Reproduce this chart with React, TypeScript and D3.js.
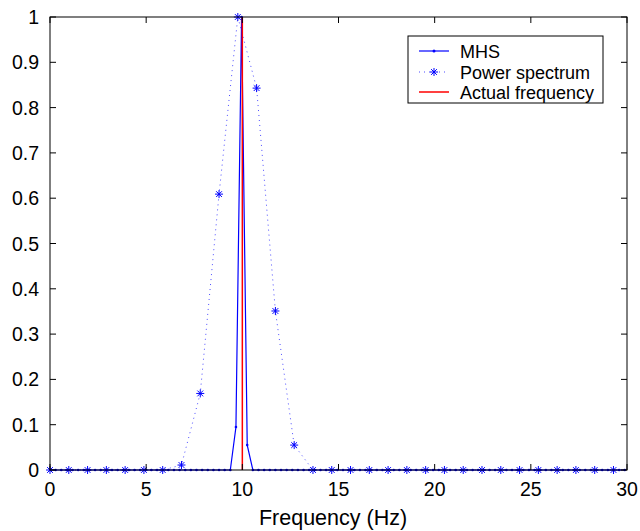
import React from "react";
import * as d3 from "d3";

// Power spectrum bins (Hz step = 1000/1024)
const psStep = 1000 / 1024;
const psValues = [
  0, 0, 0, 0, 0, 0, 0, 0.011, 0.169, 0.609, 1.0, 0.843, 0.351, 0.055, 0, 0,
  0, 0, 0, 0, 0, 0, 0, 0, 0, 0, 0, 0, 0, 0, 0,
];

// MHS bins (Hz step = 300/1024)
const mhsStep = 300 / 1024;
const mhsValues = [
  0, 0, 0, 0, 0, 0, 0, 0, 0, 0, 0, 0, 0, 0, 0, 0, 0, 0, 0, 0,
  0, 0, 0, 0, 0, 0, 0, 0, 0, 0, 0, 0, 0, 0.095, 1.0, 0.055, 0, 0, 0, 0,
  0, 0, 0, 0, 0, 0, 0, 0, 0, 0, 0, 0, 0, 0, 0, 0, 0, 0, 0, 0,
  0, 0, 0, 0, 0, 0, 0, 0, 0, 0, 0, 0, 0, 0, 0, 0, 0, 0, 0, 0,
  0, 0, 0, 0, 0, 0, 0, 0, 0, 0, 0, 0, 0, 0, 0, 0, 0, 0, 0, 0,
  0, 0, 0,
];

const actualFrequency = 10;

const xTicks = [0, 5, 10, 15, 20, 25, 30];
const yTicks = [0, 0.1, 0.2, 0.3, 0.4, 0.5, 0.6, 0.7, 0.8, 0.9, 1];
const yTickLabels = ["0", "0.1", "0.2", "0.3", "0.4", "0.5", "0.6", "0.7", "0.8", "0.9", "1"];
const xLabel = "Frequency (Hz)";
const legendLabels = ["MHS", "Power spectrum", "Actual frequency"];

const W = 640;
const H = 531;
const left = 50;
const right = 627;
const top = 17;
const bottom = 470;
const FONT = "'Liberation Sans', Arial, Helvetica, sans-serif";
const BLUE = "#0000ff";
const RED = "#ff0000";

function Star({ x, y, s = 4 }: { x: number; y: number; s?: number }) {
  const d = s * 0.72;
  return (
    <g stroke={BLUE} strokeWidth={1}>
      <line x1={x - s} y1={y} x2={x + s} y2={y} />
      <line x1={x} y1={y - s} x2={x} y2={y + s} />
      <line x1={x - d} y1={y - d} x2={x + d} y2={y + d} />
      <line x1={x - d} y1={y + d} x2={x + d} y2={y - d} />
    </g>
  );
}

export default function App() {
  const x = d3.scaleLinear().domain([0, 30]).range([left, right]);
  const y = d3.scaleLinear().domain([0, 1]).range([bottom, top]);

  const psData = psValues.map((v, i) => [i * psStep, v] as [number, number]);
  const mhsData = mhsValues.map((v, i) => [i * mhsStep, v] as [number, number]);

  const line = d3
    .line<[number, number]>()
    .x((d) => x(d[0]))
    .y((d) => y(d[1]));

  const tickLen = 6;

  const lx0 = 419;
  const lx1 = 449;
  const ltx = 460;
  const lys = [51, 72, 92];

  return (
    <svg
      width={W}
      height={H}
      style={{ position: "absolute", left: 0, top: 0, background: "#fff" }}
      fontFamily={FONT}
    >
      <rect x={0} y={0} width={W} height={H} fill="#fff" />

      {/* MHS */}
      <path d={line(mhsData) || ""} fill="none" stroke={BLUE} strokeWidth={1.2} />
      {mhsData.map((d, i) => (
        <circle key={"m" + i} cx={x(d[0])} cy={y(d[1])} r={1.3} fill={BLUE} />
      ))}

      {/* Power spectrum */}
      <path
        d={line(psData) || ""}
        fill="none"
        stroke={BLUE}
        strokeWidth={1}
        strokeDasharray="1,4"
        opacity={0.7}
      />
      {psData.map((d, i) => (
        <Star key={"p" + i} x={x(d[0])} y={y(d[1])} />
      ))}

      {/* Actual frequency */}
      <line
        x1={x(actualFrequency)}
        x2={x(actualFrequency)}
        y1={y(0)}
        y2={y(1)}
        stroke={RED}
        strokeWidth={1.5}
      />

      {/* Axes box */}
      <rect x={left} y={top} width={right - left} height={bottom - top} fill="none" stroke="#000" strokeWidth={1} />

      {xTicks.map((t) => (
        <g key={"xt" + t}>
          <line x1={x(t)} x2={x(t)} y1={bottom} y2={bottom - tickLen} stroke="#000" />
          <line x1={x(t)} x2={x(t)} y1={top} y2={top + tickLen} stroke="#000" />
          <text x={x(t)} y={496} textAnchor="middle" fontSize={19.5} fill="#000">
            {t}
          </text>
        </g>
      ))}
      {yTicks.map((t, i) => (
        <g key={"yt" + t}>
          <line x1={left} x2={left + tickLen} y1={y(t)} y2={y(t)} stroke="#000" />
          <line x1={right} x2={right - tickLen} y1={y(t)} y2={y(t)} stroke="#000" />
          <text x={39} y={y(t) + 7} textAnchor="end" fontSize={19.5} fill="#000">
            {yTickLabels[i]}
          </text>
        </g>
      ))}

      <text x={333} y={525} textAnchor="middle" fontSize={21.5} fill="#000">
        {xLabel}
      </text>

      {/* Legend */}
      <rect x={408} y={36} width={195} height={67} fill="#fff" stroke="#000" strokeWidth={1} />
      <line x1={lx0} x2={lx1} y1={lys[0]} y2={lys[0]} stroke={BLUE} strokeWidth={1.2} />
      <circle cx={(lx0 + lx1) / 2} cy={lys[0]} r={1.5} fill={BLUE} />
      <line x1={lx0} x2={lx1} y1={lys[1]} y2={lys[1]} stroke={BLUE} strokeWidth={1} strokeDasharray="1,4" opacity={0.7} />
      <Star x={(lx0 + lx1) / 2} y={lys[1]} />
      <line x1={lx0} x2={lx1} y1={lys[2]} y2={lys[2]} stroke={RED} strokeWidth={1.5} />
      {legendLabels.map((l, i) => (
        <text key={l} x={ltx} y={lys[i] + 6.5} fontSize={18} fill="#000">
          {l}
        </text>
      ))}
    </svg>
  );
}
